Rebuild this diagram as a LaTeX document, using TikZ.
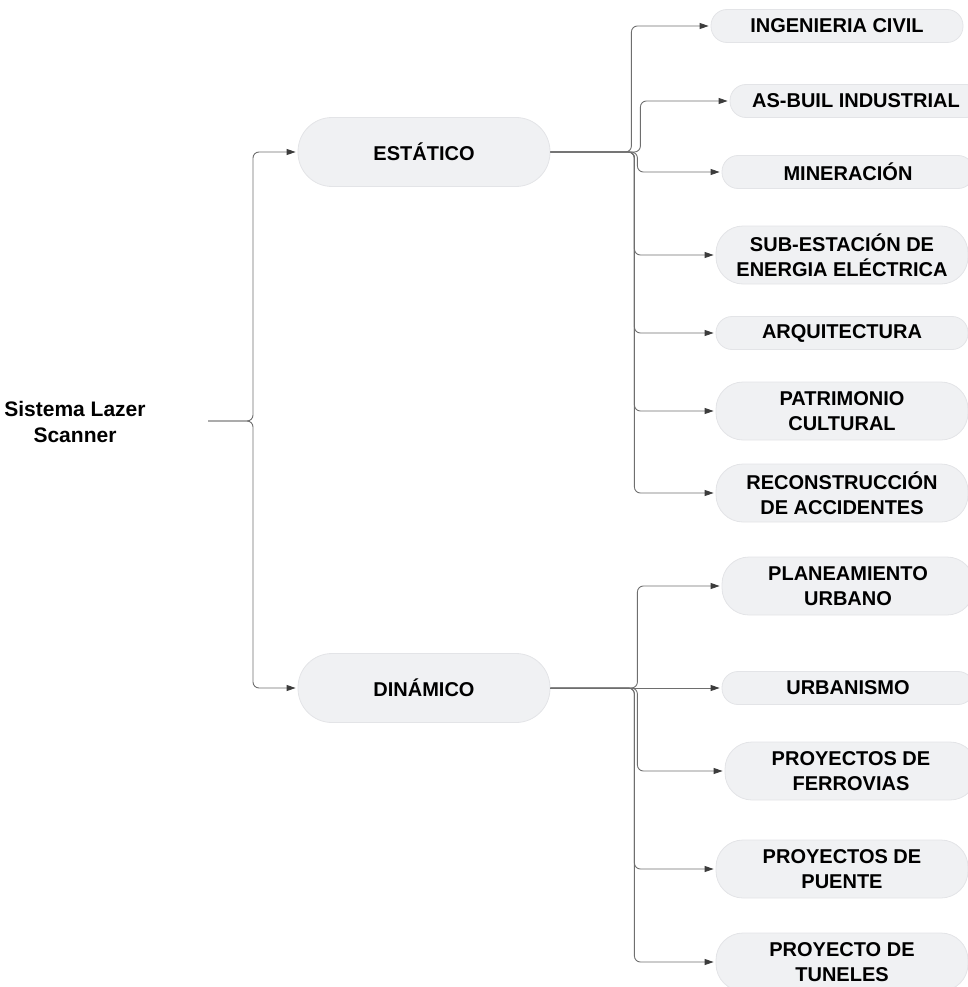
\documentclass[tikz,border=0pt]{standalone}
\usepackage{fontspec}
\setmainfont{Liberation Sans}
\usetikzlibrary{arrows.meta}
\definecolor{boxfill}{HTML}{F0F1F3}
\definecolor{boxline}{HTML}{E3E4E7}
\definecolor{linkgray}{HTML}{6E6E6E}
\definecolor{tipgray}{HTML}{3C3C3C}

\begin{document}
\begin{tikzpicture}[x=1pt,y=-1pt,
    box/.style={draw=boxline,fill=boxfill,line width=0.8pt,align=center,
      font=\fontsize{20}{25}\selectfont\bfseries,inner sep=0pt},
    mid/.style={box,minimum width=252pt,minimum height=69pt,rounded corners=34pt},
    leaf/.style={box,minimum width=252pt,minimum height=33pt,rounded corners=16pt},
    leaftwo/.style={box,minimum width=252pt,minimum height=58pt,rounded corners=27pt},
    link/.style={draw=linkgray,line width=0.9pt,rounded corners=6pt,
      -{Triangle[length=9pt,width=6pt,color=tipgray]},shorten >=2pt}]
    \useasboundingbox (0,0) rectangle (968,987);

    \node[font=\fontsize{21}{26}\selectfont\bfseries,align=center] (root) at (75,422) {Sistema Lazer\\Scanner};
    \node[mid] (est) at (424,152) {ESTÁTICO};
    \node[mid] (din) at (424,688) {DINÁMICO};

    \node[leaf] (ing) at (837,26) {INGENIERIA CIVIL};
    \node[leaf] (asb) at (856,101) {AS-BUIL INDUSTRIAL};
    \node[leaf] (min) at (848,172) {MINERACIÓN};
    \node[leaftwo] (sub) at (842,255) {SUB-ESTACIÓN DE\\ENERGIA ELÉCTRICA};
    \node[leaf] (arq) at (842,333) {ARQUITECTURA};
    \node[leaftwo] (pat) at (842,411) {PATRIMONIO\\CULTURAL};
    \node[leaftwo] (rec) at (842,493) {RECONSTRUCCIÓN\\DE ACCIDENTES};

    \node[leaftwo] (pla) at (848,586) {PLANEAMIENTO\\URBANO};
    \node[leaf] (urb) at (848,688) {URBANISMO};
    \node[leaftwo] (fer) at (851,771) {PROYECTOS DE\\FERROVIAS};
    \node[leaftwo] (pue) at (842,869) {PROYECTOS DE\\PUENTE};
    \node[leaftwo] (tun) at (842,962) {PROYECTO DE\\TUNELES};

    % root branches
    \coordinate (rs) at (208,421);
    \coordinate (rj) at (253,421);
    \draw[link] (rs) -- (rj) |- (est.west);
    \draw[link] (rs) -- (rj) |- (din.west);

    % static branches
    \draw[link] (est.east) -- ++(81,0) |- (ing.west);
    \draw[link] (est.east) -- ++(90,0) |- (asb.west);
    \draw[link] (est.east) -- ++(87,0) |- (min.west);
    \draw[link] (est.east) -- ++(84,0) |- (sub.west);
    \draw[link] (est.east) -- ++(84,0) |- (arq.west);
    \draw[link] (est.east) -- ++(84,0) |- (pat.west);
    \draw[link] (est.east) -- ++(84,0) |- (rec.west);

    % dynamic branches
    \draw[link] (din.east) -- ++(87,0) |- (pla.west);
    \draw[link] (din.east) -- (urb.west);
    \draw[link] (din.east) -- ++(87,0) |- (fer.west);
    \draw[link] (din.east) -- ++(84,0) |- (pue.west);
    \draw[link] (din.east) -- ++(84,0) |- (tun.west);
\end{tikzpicture}
\end{document}
